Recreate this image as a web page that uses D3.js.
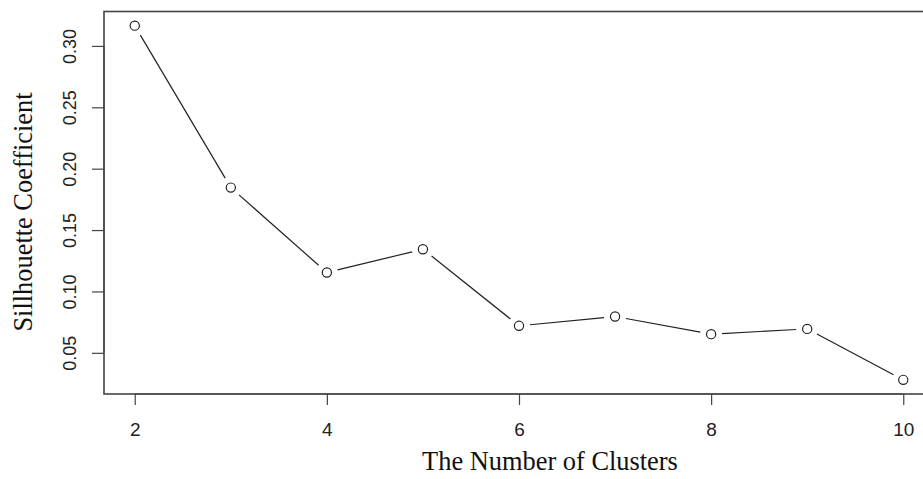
<!DOCTYPE html>
<html>
<head>
<meta charset="utf-8">
<script src="https://cdn.jsdelivr.net/npm/d3@7"></script>
<style>
  html, body { margin: 0; padding: 0; background: #fff; }
  svg { display: block; }
</style>
</head>
<body>
<svg id="chart" width="923" height="479"></svg>
<script>
// Silhouette coefficient by number of clusters (R base-style plot, type = "b")

const clusters = [2, 3, 4, 5, 6, 7, 8, 9, 10];
const silhouette = [0.3165, 0.1846, 0.1154, 0.1344, 0.0720, 0.0796, 0.0652, 0.0695, 0.0280];
const xTicks = [2, 4, 6, 8, 10];
const yTicks = [0.05, 0.10, 0.15, 0.20, 0.25, 0.30];

const width = 923, height = 479;
const box = { left: 104, top: 11.5, right: 934, bottom: 394 };

const svg = d3.select('#chart');

// R pads each axis range by 4%
function padded(values){
  const [lo, hi] = d3.extent(values);
  const pad = (hi - lo) * 0.04;
  return [lo - pad, hi + pad];
}

const x = d3.scaleLinear().domain(padded(clusters)).range([box.left, box.right]);
const y = d3.scaleLinear().domain(padded(silhouette)).range([box.bottom, box.top]);

const points = clusters.map((c, i) => ({ x: x(c), y: y(silhouette[i]) }));

// segments between points, trimmed short of each circle
const gap = 11;
const segs = [];
for (let i = 0; i < points.length - 1; i++) {
  const a = points[i], b = points[i + 1];
  const dx = b.x - a.x, dy = b.y - a.y;
  const len = Math.hypot(dx, dy);
  if (len <= 2 * gap) continue;
  const ux = dx / len, uy = dy / len;
  segs.push([a.x + ux * gap, a.y + uy * gap, b.x - ux * gap, b.y - uy * gap]);
}

svg.append('g')
  .selectAll('line')
  .data(segs)
  .join('line')
    .attr('x1', d => d[0]).attr('y1', d => d[1])
    .attr('x2', d => d[2]).attr('y2', d => d[3])
    .attr('stroke', '#222')
    .attr('stroke-width', 1.2);

svg.append('g')
  .selectAll('circle')
  .data(points)
  .join('circle')
    .attr('cx', d => d.x)
    .attr('cy', d => d.y)
    .attr('r', 4.6)
    .attr('fill', 'none')
    .attr('stroke', '#222')
    .attr('stroke-width', 1.2);

// plot box
svg.append('rect')
  .attr('x', box.left)
  .attr('y', box.top)
  .attr('width', box.right - box.left)
  .attr('height', box.bottom - box.top)
  .attr('fill', 'none')
  .attr('stroke', '#444')
  .attr('stroke-width', 1.6);

// x axis
const xAxis = d3.axisBottom(x)
  .tickValues(xTicks)
  .tickSize(11)
  .tickPadding(18)
  .tickFormat(d3.format('d'));

const gx = svg.append('g')
  .attr('transform', `translate(0,${box.bottom})`)
  .call(xAxis);
gx.select('.domain')
  .attr('d', `M${x(xTicks[0])},0H${x(xTicks[xTicks.length - 1])}`)
  .attr('stroke', '#444').attr('stroke-width', 1.2);
gx.selectAll('.tick line').attr('stroke', '#444').attr('stroke-width', 1.2);
gx.selectAll('.tick text')
  .attr('fill', '#222')
  .style('font-family', '"Liberation Sans", Arial, sans-serif')
  .style('font-size', '19px');

// y axis, labels rotated like R's default las = 0
const yAxis = d3.axisLeft(y)
  .tickValues(yTicks)
  .tickSize(12)
  .tickFormat(d3.format('.2f'));

const gy = svg.append('g')
  .attr('transform', `translate(${box.left},0)`)
  .call(yAxis);
gy.select('.domain')
  .attr('d', `M0,${y(yTicks[0])}V${y(yTicks[yTicks.length - 1])}`)
  .attr('stroke', '#444').attr('stroke-width', 1.2);
gy.selectAll('.tick line').attr('stroke', '#444').attr('stroke-width', 1.2);
gy.selectAll('.tick text')
  .attr('x', null).attr('dy', null)
  .attr('text-anchor', 'middle')
  .attr('dominant-baseline', 'central')
  .attr('transform', 'translate(-34,0) rotate(-90)')
  .attr('fill', '#222')
  .style('font-family', '"Liberation Sans", Arial, sans-serif')
  .style('font-size', '18px');

// axis titles
svg.append('text')
  .attr('x', 550)
  .attr('y', 470)
  .attr('text-anchor', 'middle')
  .style('font-family', '"Liberation Serif", "Times New Roman", serif')
  .style('font-size', '26.4px')
  .attr('fill', '#111')
  .text('The Number of Clusters');

svg.append('text')
  .attr('transform', 'translate(32,212) rotate(-90)')
  .attr('text-anchor', 'middle')
  .style('font-family', '"Liberation Serif", "Times New Roman", serif')
  .style('font-size', '26.4px')
  .attr('fill', '#111')
  .text('Sillhouette Coefficient');
</script>
</body>
</html>
